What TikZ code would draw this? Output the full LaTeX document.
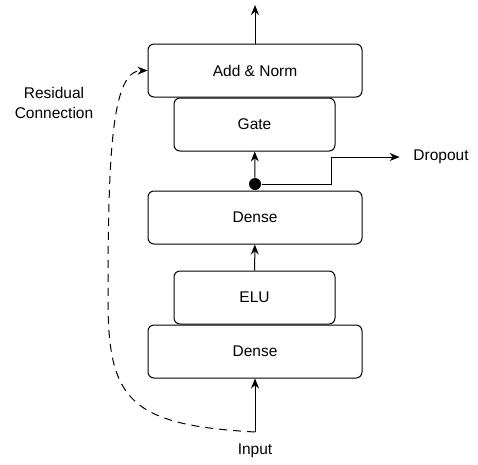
\documentclass[tikz,border=0pt]{standalone}
\usepackage{fontspec}
\setmainfont{Liberation Sans}
\usetikzlibrary {arrows.meta, positioning, calc}
\tikzset{
    >={Stealth[length=10pt, width=8pt]},
    layer/.style={draw, line width=1pt, rounded corners=6pt, minimum height=53pt},
    wide/.style={layer, minimum width=214pt},
    narrow/.style={layer, minimum width=161pt}
}

\begin{document}
\begin{tikzpicture}[x=1pt, y=-1pt, font=\fontsize{15.5}{20}\selectfont, line width=1pt]
    \useasboundingbox (0,0) rectangle (478,464);
    \node[wide] (norm) at (255, 70.5) {Add \& Norm};
    \node[narrow] (gate) at (254.5, 124.5) {Gate};
    \node[wide] (dense2) at (255, 217.5) {Dense};
    \node[narrow] (elu) at (254.5, 297.5) {ELU};
    \node[wide] (dense1) at (255, 351.5) {Dense};
    \node (input) at (255, 451) {Input};
    \node (drop) at (441, 157) {Dropout};
    \node[align=center] (res) at (54, 103) {Residual\\Connection};
    \node[circle, fill, inner sep=0, minimum size=12pt] (dot) at (255, 184) {};
    \coordinate (in) at (255, 432);
    \coordinate (out) at (255, 5);
    \coordinate (bend) at (331, 157);
    \draw[->] (in) -- (dense1);
    \draw[->] (elu) -- (dense2);
    \draw[->] (dot) -- (gate);
    \draw[->] (norm) -- (out);
    \draw[->] (dot) -| (bend) -- ([xshift=-10pt]drop.west);
    \draw[->, dash pattern=on 8pt off 6pt] (in) .. controls (130,425) and (108,400) .. (108,300)
        .. controls (108,150) and (112,71) .. (norm.west);
\end{tikzpicture}
\end{document}
